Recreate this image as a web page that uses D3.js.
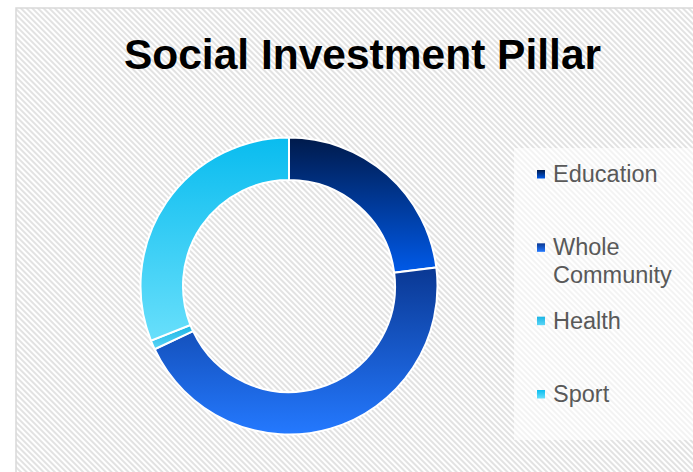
<!DOCTYPE html>
<html>
<head>
<meta charset="utf-8">
<script src="https://cdn.jsdelivr.net/npm/d3@7"></script>
<style>
  body { margin: 0; background: #fff; }
  svg { display: block; font-family: "Liberation Sans", Arial, sans-serif; }
</style>
</head>
<body>
<svg id="svg" width="693" height="472"></svg>
<script>
var categories = ['Education', 'Whole Community', 'Health', 'Sport'];
var values = [23, 45, 1, 31];
var legendLines = [['Education'], ['Whole', 'Community'], ['Health'], ['Sport']];
// top and bottom colour of each slice's gradient
var topColors = ['#001a4b', '#0a3893', '#1ab4e4', '#09bcef'];
var bottomColors = ['#005ae9', '#2479ff', '#5ad6f7', '#68dffb'];

var width = 693, height = 472;
var svg = d3.select('#svg');
var defs = svg.append('defs');

// diagonal hatch background
var pat = defs.append('pattern')
    .attr('id', 'hatch')
    .attr('width', 4).attr('height', 4)
    .attr('patternUnits', 'userSpaceOnUse')
    .attr('patternTransform', 'rotate(-45)');
pat.append('rect').attr('width', 4).attr('height', 4).attr('fill', '#fff');
pat.append('rect').attr('width', 2).attr('height', 4).attr('fill', '#e2e2e2');

categories.forEach(function (c, i) {
    var g = defs.append('linearGradient')
        .attr('id', 'grad' + i)
        .attr('x1', 0).attr('y1', 0).attr('x2', 0).attr('y2', 1);
    g.append('stop').attr('offset', '0%').attr('stop-color', topColors[i]);
    g.append('stop').attr('offset', '100%').attr('stop-color', bottomColors[i]);
});

// chart area
svg.append('rect')
    .attr('x', 16).attr('y', 8)
    .attr('width', width + 20).attr('height', height + 20)
    .attr('fill', 'url(#hatch)')
    .attr('stroke', '#d9d9d9')
    .attr('stroke-width', 1.5);

// title
svg.append('text')
    .attr('x', 362.5).attr('y', 69)
    .attr('text-anchor', 'middle')
    .attr('font-size', '42.5px')
    .attr('font-weight', 'bold')
    .attr('fill', '#000')
    .text('Social Investment Pillar');

// donut
var cx = 289, cy = 286, outerR = 148.5, innerR = 106;
var pie = d3.pie().sort(null).value(function (d) { return d; });
var arc = d3.arc().innerRadius(innerR).outerRadius(outerR);

svg.append('g')
    .attr('transform', 'translate(' + cx + ',' + cy + ')')
    .selectAll('path')
    .data(pie(values))
    .enter().append('path')
    .attr('d', arc)
    .attr('fill', function (d, i) { return 'url(#grad' + i + ')'; })
    .attr('stroke', '#fff')
    .attr('stroke-width', 2);

// legend
svg.append('rect')
    .attr('x', 514).attr('y', 148)
    .attr('width', 200).attr('height', 292)
    .attr('fill', '#fff')
    .attr('opacity', 0.6);

var y = d3.scaleLinear().domain([0, 3]).range([182, 402]);

var item = svg.append('g').selectAll('g')
    .data(categories)
    .enter().append('g')
    .attr('transform', function (d, i) { return 'translate(0,' + y(i) + ')'; });

item.append('rect')
    .attr('x', 537).attr('y', -12)
    .attr('width', 8).attr('height', 8.5)
    .attr('fill', function (d, i) { return 'url(#grad' + i + ')'; });

item.append('text')
    .attr('x', 553)
    .attr('font-size', '23.5px')
    .attr('fill', '#595959')
    .selectAll('tspan')
    .data(function (d, i) { return legendLines[i]; })
    .enter().append('tspan')
    .attr('x', 553)
    .attr('dy', function (d, j) { return j ? 28 : 0; })
    .text(function (d) { return d; });
</script>
</body>
</html>
